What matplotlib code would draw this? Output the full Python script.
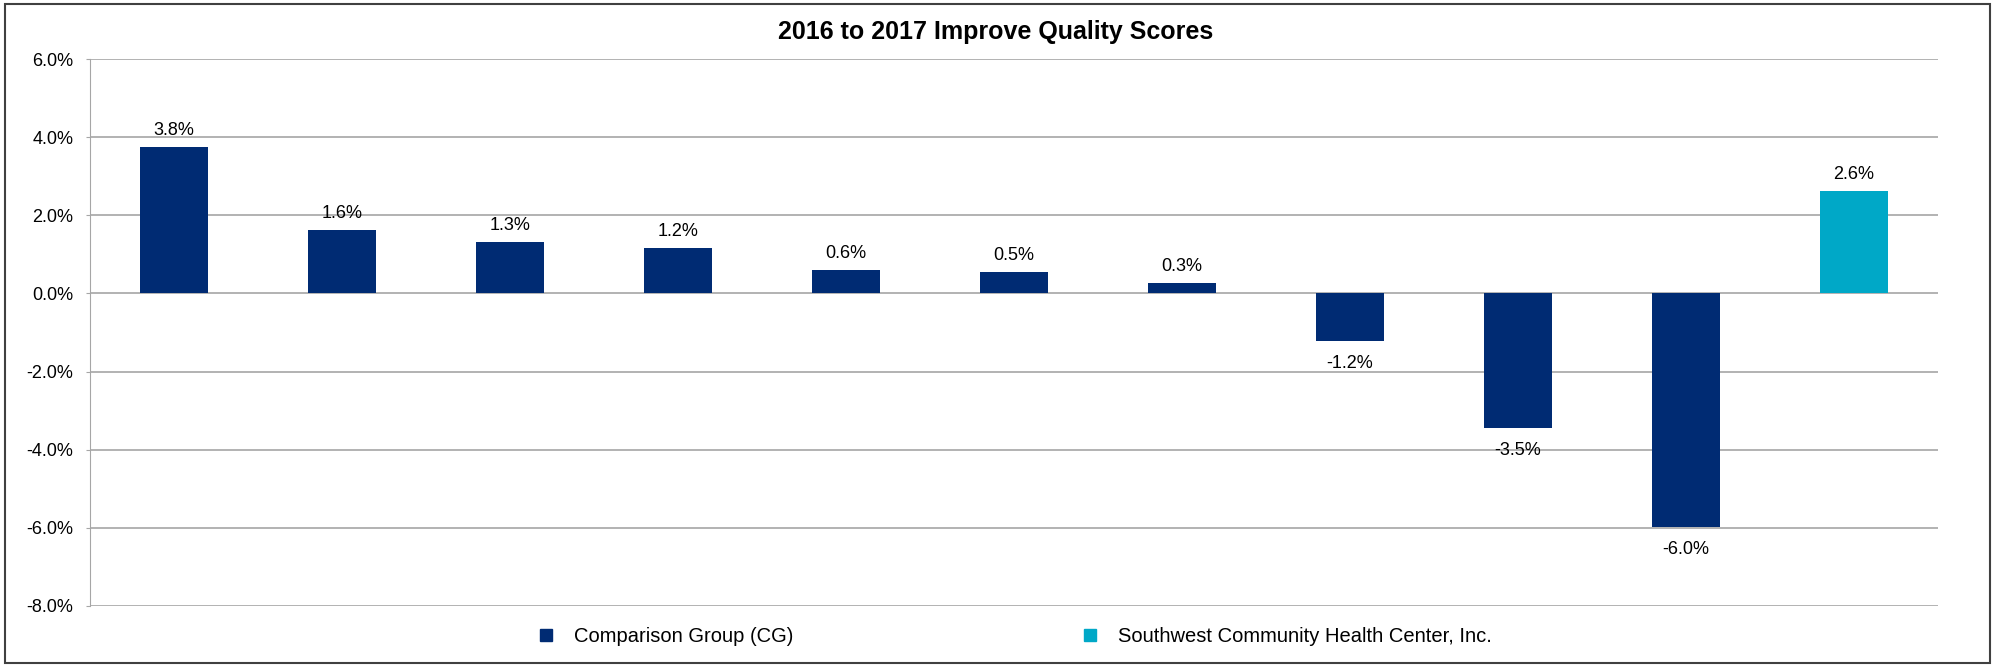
import numpy as np
import matplotlib.pyplot as plt
from matplotlib.patches import Rectangle
from matplotlib.lines import Line2D

plt.rcParams['font.family'] = ['Liberation Sans', 'DejaVu Sans']

# values in percent
cg_values = [3.75, 1.62, 1.32, 1.16, 0.60, 0.54, 0.27, -1.22, -3.45, -5.98]
cg_labels = ['3.8%', '1.6%', '1.3%', '1.2%', '0.6%', '0.5%', '0.3%', '-1.2%', '-3.5%', '-6.0%']
center_value = [2.62]
center_label = ['2.6%']
y_ticks = [6, 4, 2, 0, -2, -4, -6, -8]

navy = '#002b73'
cyan = '#00a8c7'
grid_col = '#a6a6a6'

W, H = 1997, 667
fig = plt.figure(figsize=(W / 100, H / 100), dpi=100)
ax = fig.add_axes([90 / W, 1 - 606 / H, (1938 - 90) / W, (606 - 59) / H])

x_cg = np.arange(len(cg_values))
x_c = np.arange(len(cg_values), len(cg_values) + len(center_value))
ax.bar(x_cg, cg_values, width=0.4, color=navy, zorder=3)
ax.bar(x_c, center_value, width=0.4, color=cyan, zorder=3)

allx = list(x_cg) + list(x_c)
allv = cg_values + center_value
alll = cg_labels + center_label
for x, v, lab in zip(allx, allv, alll):
    if v >= 0:
        ax.annotate(lab, (x, v), xytext=(0, 6), textcoords='offset points',
                    ha='center', va='bottom', fontsize=13)
    else:
        ax.annotate(lab, (x, v), xytext=(0, -10), textcoords='offset points',
                    ha='center', va='top', fontsize=13)

ax.set_xlim(-0.5, len(allv) - 0.5)
ax.set_ylim(-8, 6)
ax.set_yticks(y_ticks)
ax.set_yticklabels(['%.1f%%' % t for t in y_ticks], fontsize=13)
ax.set_xticks([])
ax.yaxis.grid(True, color=grid_col, linewidth=1.2, zorder=0)
for s in ['top', 'right', 'bottom']:
    ax.spines[s].set_visible(False)
ax.spines['left'].set_color(grid_col)
ax.tick_params(axis='y', length=3, color=grid_col, pad=9)

fig.text(996 / W, 1 - 32 / H, '2016 to 2017 Improve Quality Scores',
         ha='center', va='center', fontsize=18, fontweight='bold')

handles = [Line2D([], [], marker='s', linestyle='', color=navy, markersize=8),
           Line2D([], [], marker='s', linestyle='', color=cyan, markersize=8)]
fig.legend(handles, ['Comparison Group (CG)', 'Southwest Community Health Center, Inc.'],
           ncol=2, loc='center left', bbox_to_anchor=(538 / W, 1 - 637 / H),
           frameon=False, fontsize=14.5, columnspacing=14.3, handletextpad=1.0,
           handlelength=0.8, borderpad=0, borderaxespad=0)

fig.patches.append(Rectangle((5 / W, 4 / H), (1990 - 5) / W, (663 - 4) / H,
                             transform=fig.transFigure, fill=False,
                             edgecolor='#404040', linewidth=1.5))

fig.savefig('out.png', dpi=100)
